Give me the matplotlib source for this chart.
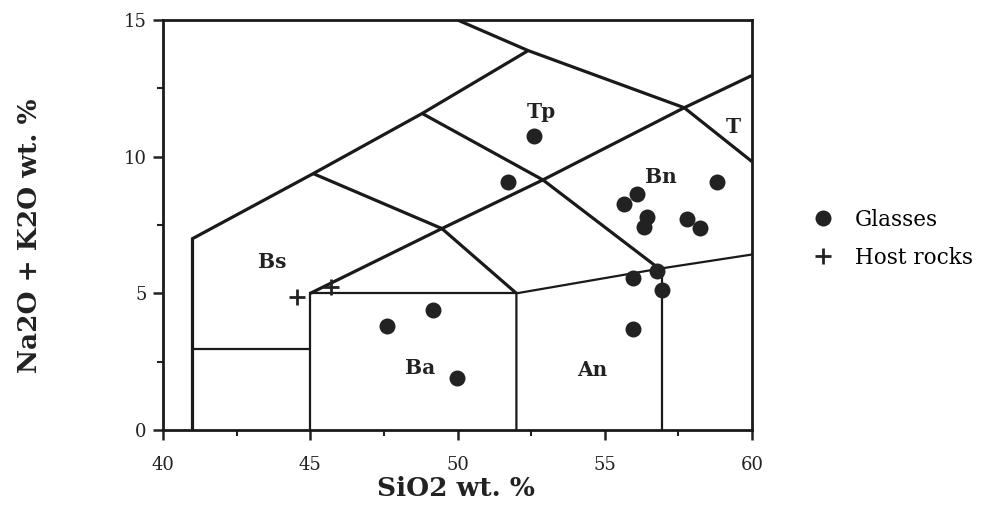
import matplotlib
matplotlib.use("Agg")
import matplotlib.pyplot as plt
from matplotlib.lines import Line2D

# ---- data ----
glass_sio2 = [52.6, 51.7, 56.08, 55.67, 56.45, 56.35, 57.78, 58.23, 58.8,
              55.95, 56.78, 56.96, 55.95, 49.18, 47.62, 49.97]
glass_alk = [10.74, 9.07, 8.65, 8.25, 7.78, 7.41, 7.73, 7.4, 9.06,
             5.56, 5.82, 5.11, 3.70, 4.40, 3.82, 1.91]
host_sio2 = [44.54, 45.72]
host_alk = [4.86, 5.23]

# field boundaries (x list, y list, thick?)
boundaries = [
    ([41, 41, 45.1, 48.8, 52.4], [0, 7, 9.38, 11.58, 13.88], True),
    ([50, 52.4, 57.7, 60], [15, 13.88, 11.79, 9.82], True),
    ([45, 49.47, 52.9, 57.7, 60], [5, 7.37, 9.15, 11.79, 12.97], True),
    ([45.1, 49.47, 52], [9.38, 7.37, 5], True),
    ([48.8, 52.9, 56.85], [11.58, 9.15, 5.9], True),
    ([41, 45], [2.97, 2.97], False),
    ([45, 45, 52], [0, 5, 5], False),
    ([52, 52, 56.85, 60], [0, 5, 5.9, 6.42], False),
    ([56.95, 56.95], [0, 5.9], False),
]

field_names = ["Tp", "Bn", "T", "Bs", "Ba", "An"]
field_x = [52.85, 56.9, 59.35, 43.7, 48.73, 54.57]
field_y = [11.63, 9.26, 11.09, 6.15, 2.27, 2.2]

x_ticks = [40, 45, 50, 55, 60]
y_ticks = [0, 5, 10, 15]

serif = ["DejaVu Serif"]

fig = plt.figure(figsize=(9.84, 5.23), dpi=100)
ax = fig.add_axes([0.1657, 0.1778, 0.5985, 0.784])

for xs, ys, thick in boundaries:
    ax.plot(xs, ys, color="#1a1a1a", lw=2.3 if thick else 1.6,
            solid_joinstyle="miter", solid_capstyle="butt", zorder=2)

ax.plot(glass_sio2, glass_alk, "o", color="#222222", ms=11.5, mew=0,
        zorder=3, label="Glasses")
ax.plot(host_sio2, host_alk, "+", color="#222222", ms=12, mew=2.0,
        zorder=3, label="Host rocks")

for name, fx, fy in zip(field_names, field_x, field_y):
    ax.text(fx, fy, name, ha="center", va="center", fontsize=14.5,
            fontweight="bold", family=serif, color="#222222")

ax.set_xlim(40, 60)
ax.set_ylim(0, 15)
ax.set_xticks(x_ticks)
ax.set_yticks(y_ticks)
ax.set_xticks([42.5, 47.5, 52.5, 57.5], minor=True)
ax.set_yticks([2.5, 7.5, 12.5], minor=True)
ax.tick_params(which="major", direction="out", length=7, width=1.8,
               labelsize=13, colors="#222222")
ax.tick_params(axis="x", which="major", pad=12)
ax.tick_params(axis="y", which="major", pad=5)
ax.tick_params(which="minor", direction="out", length=4, width=1.5,
               colors="#222222")
for lab in ax.get_xticklabels() + ax.get_yticklabels():
    lab.set_family(serif)
for s in ax.spines.values():
    s.set_linewidth(2.0)
    s.set_color("#1a1a1a")

ax.set_xlabel("SiO2 wt. %", fontsize=19, fontweight="bold", family=serif,
              color="#222222")
ax.set_ylabel("Na2O + K2O wt. %", fontsize=19, fontweight="bold",
              family=serif, color="#222222")
ax.xaxis.set_label_coords(0.498, -0.113)
ax.yaxis.set_label_coords(-0.205, 0.473)

handles = [
    Line2D([], [], marker="o", ls="none", color="#222222", ms=11.5, mew=0),
    Line2D([], [], marker="+", ls="none", color="#222222", ms=12, mew=2.0),
]
leg = fig.legend(handles, ["Glasses", "Host rocks"], loc="upper left",
                 bbox_to_anchor=(0.805, 0.638), frameon=False,
                 prop={"family": serif, "size": 15.5}, handletextpad=0.9,
                 labelspacing=0.75, handlelength=1.1)

fig.savefig("out.png", dpi=100)
